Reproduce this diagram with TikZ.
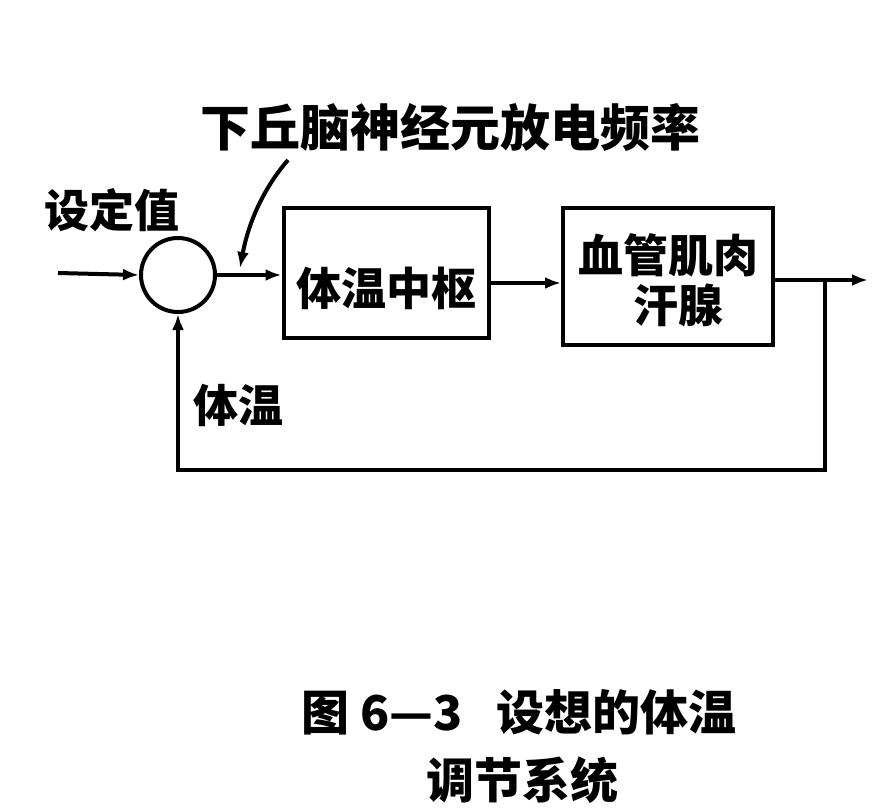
\documentclass[tikz,border=0pt]{standalone}
\usepackage{fontspec}
\newfontfamily\cjk{Noto Sans CJK SC}
\usetikzlibrary{arrows.meta}
\begin{document}
\begin{tikzpicture}[x=1pt,y=-1pt,
  line/.style={line width=4pt},
  arr/.style={line, -{Latex[length=16pt,width=12pt]}},
  box/.style={draw,line width=4pt,minimum width=205pt,inner sep=0pt},
  lbl/.style={font=\cjk\bfseries\fontsize{45}{52}\selectfont, inner sep=0pt},
  captxt/.style={font=\cjk\bfseries\fontsize{48}{56}\selectfont, inner sep=0pt}]
\useasboundingbox (0,0) rectangle (892,811);
\node[circle,draw,line width=4pt,minimum size=74pt,inner sep=0pt] (sum) at (178,275) {};
\coordinate (in) at (58,273);
\node[box,minimum height=130pt] (b1) at (386,273) {};
\node[lbl] (t1) at (386,288) {体温中枢};
\node[box,minimum height=137pt,minimum width=210pt] (b2) at (668,276) {};
\node[lbl,align=center] (t2) at (668,280) {血管肌肉\\[-2pt]\hspace{20pt}汗腺};
\coordinate (out) at (868,280);
\coordinate (br) at (825,280);
\coordinate (bl) at (825,470);
\coordinate (bb) at (178,470);
\draw[arr] (in) -- (sum.west);
\draw[arr] (sum.east) -- (b1.west |- sum.east);
\draw[arr] (b1.east |- 0,283) -- (b2.west |- 0,283);
\draw[arr] (b2.east |- br) -- (out);
\draw[arr] (br) -- (bl) -- (bb) -- (sum.south);
\node[lbl] (sv) at (112,210) {设定值};
\node[lbl] (tw) at (238,405) {体温};
\node[lbl,font=\cjk\bfseries\fontsize{50}{56}\selectfont] (hq) at (450,127) {下丘脑神经元放电频率};
\coordinate (ha) at (288,160);
\coordinate (hb) at (240,268);
\draw[arr] (ha) .. controls (262,190) and (248,225) .. (hb);
\node[captxt] (c1) at (519,712) {图 6—3\hspace{34pt}设想的体温};
\node[captxt] (c2) at (522,780) {调节系统};
\end{tikzpicture}
\end{document}
